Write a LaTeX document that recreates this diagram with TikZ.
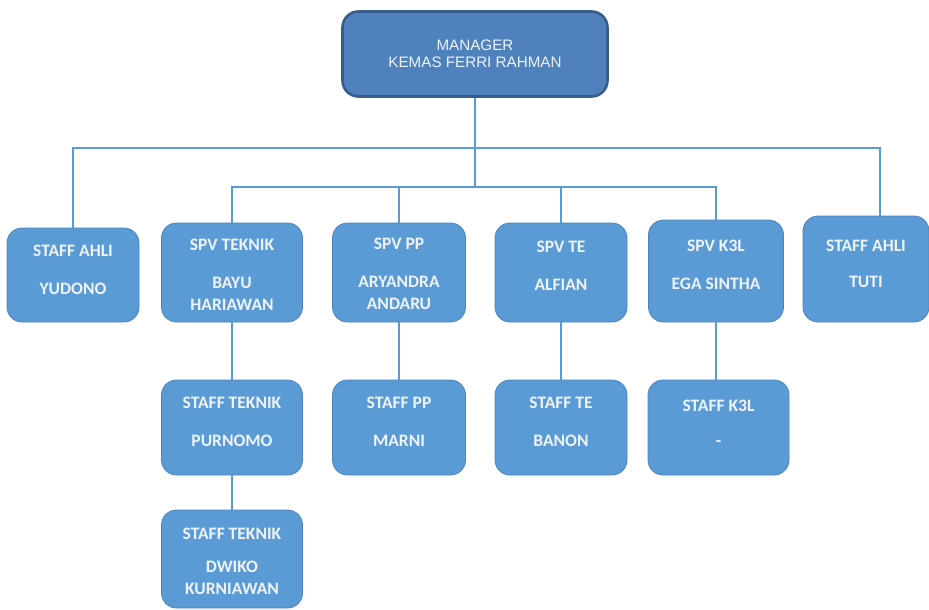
\documentclass[tikz,border=0pt]{standalone}
\usepackage{fontspec}
\setmainfont{Carlito}
\newfontfamily\mgrfont{Liberation Sans}
\usetikzlibrary{positioning}

\definecolor{boxblue}{RGB}{91,155,213}
\definecolor{boxline}{RGB}{76,132,188}
\definecolor{mgrblue}{RGB}{79,129,189}
\definecolor{mgrline}{RGB}{56,93,138}
\definecolor{linkblue}{RGB}{91,155,213}
\definecolor{labelwhite}{RGB}{238,243,250}

\begin{document}
\begin{tikzpicture}[x=1pt,y=-1pt,
	staff/.style={draw=boxline, line width=0.8pt, fill=boxblue, rounded corners=15pt, inner sep=0pt},
	boss/.style={draw=mgrline, line width=2.6pt, fill=mgrblue, rounded corners=16pt, inner sep=0pt,
		minimum width=265pt, minimum height=85pt, align=center, text=labelwhite,
		font=\mgrfont\fontsize{15.2}{17}\selectfont},
	lbl/.style={anchor=north, inner sep=0pt, align=center, text=labelwhite,
		font=\bfseries\fontsize{17.5}{22}\selectfont},
	link/.style={draw=linkblue, line width=1.3pt}]
	\useasboundingbox (0,0) rectangle (929,610);

	% manager
	\node[boss] (mgr) at (475,54) {MANAGER\\KEMAS FERRI RAHMAN};

	% first row
	\node[staff, minimum width=132pt, minimum height=94pt] (yudono) at (73,275) {};
	\node[lbl] (yudonotxt) at ([yshift=-17.5pt]yudono.north) {STAFF AHLI\\[16pt]YUDONO};

	\node[staff, minimum width=141pt, minimum height=99pt] (spvtek) at (232,272.5) {};
	\node[lbl] (spvtektxt) at ([yshift=-16.5pt]spvtek.north) {SPV TEKNIK\\[16pt]BAYU\\HARIAWAN};

	\node[staff, minimum width=133pt, minimum height=99pt] (spvpp) at (399,272.5) {};
	\node[lbl] (spvpptxt) at ([yshift=-15.5pt]spvpp.north) {SPV PP\\[16pt]ARYANDRA\\ANDARU};

	\node[staff, minimum width=132pt, minimum height=99pt] (spvte) at (561,272.5) {};
	\node[lbl] (spvtetxt) at ([yshift=-18.5pt]spvte.north) {SPV TE\\[16pt]ALFIAN};

	\node[staff, minimum width=135pt, minimum height=102pt] (spvk3l) at (716,271) {};
	\node[lbl] (spvk3ltxt) at ([yshift=-20.5pt]spvk3l.north) {SPV K3L\\[16pt]EGA SINTHA};

	\node[staff, minimum width=126pt, minimum height=106pt] (tuti) at (866,269) {};
	\node[lbl] (tutitxt) at ([yshift=-24.5pt]tuti.north) {STAFF AHLI\\[14pt]TUTI};
	\coordinate (tutitop) at ([xshift=14pt]tuti.north);

	% second row
	\node[staff, minimum width=141pt, minimum height=95pt] (stftek) at (232,427.5) {};
	\node[lbl] (stftektxt) at ([yshift=-17.5pt]stftek.north) {STAFF TEKNIK\\[16pt]PURNOMO};

	\node[staff, minimum width=133pt, minimum height=95pt] (stfpp) at (399,427.5) {};
	\node[lbl] (stfpptxt) at ([yshift=-17.5pt]stfpp.north) {STAFF PP\\[16pt]MARNI};

	\node[staff, minimum width=132pt, minimum height=95pt] (stfte) at (561,427.5) {};
	\node[lbl] (stftetxt) at ([yshift=-17.5pt]stfte.north) {STAFF TE\\[16pt]BANON};

	\node[staff, minimum width=141pt, minimum height=95pt] (stfk3l) at (718.5,427.5) {};
	\node[lbl] (stfk3ltxt) at ([yshift=-20.5pt]stfk3l.north) {STAFF K3L\\[13pt]-};

	% third row
	\node[staff, minimum width=141pt, minimum height=98pt] (dwiko) at (232,559) {};
	\node[lbl] (dwikotxt) at ([yshift=-18.5pt]dwiko.north) {STAFF TEKNIK\\[11pt]DWIKO\\KURNIAWAN};

	% connectors
	\coordinate (bus) at (475,148);
	\coordinate (spvbus) at (475,187);
	\draw[link] (mgr.south) -- (bus);
	\draw[link] (bus) -| (yudono.north);
	\draw[link] (bus) -| (tutitop);
	\draw[link] (bus) -- (spvbus);
	\draw[link] (spvbus) -| (spvtek.north);
	\draw[link] (spvbus) -| (spvpp.north);
	\draw[link] (spvbus) -| (spvte.north);
	\draw[link] (spvbus) -| (spvk3l.north);
	\draw[link] (spvtek) -- (stftek);
	\draw[link] (spvpp) -- (stfpp);
	\draw[link] (spvte) -- (stfte);
	\draw[link] (spvk3l.south) -- (stfk3l.north -| spvk3l.south);
	\draw[link] (stftek) -- (dwiko);
\end{tikzpicture}
\end{document}
